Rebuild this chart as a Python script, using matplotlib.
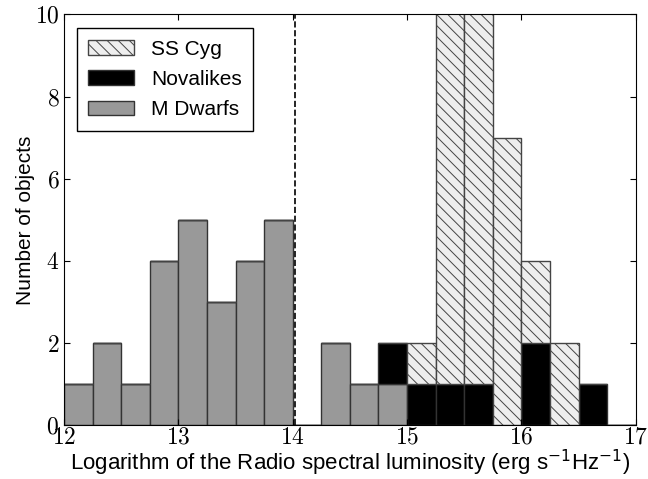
import numpy as np
import matplotlib.pyplot as plt
from matplotlib.ticker import FuncFormatter

plt.rcParams['font.family'] = ['Liberation Sans', 'DejaVu Sans']
plt.rcParams['mathtext.fontset'] = 'cm'
plt.rcParams['hatch.color'] = '#808080'
plt.rcParams['hatch.linewidth'] = 0.7

# bin edges, width 0.25 dex
edges = np.arange(12.0, 17.01, 0.25)

mdwarfs = [1, 2, 1, 4, 5, 3, 4, 5, 0, 2, 1, 1, 0, 0, 0, 0, 0, 0, 0, 0]
novalikes = [0, 0, 0, 0, 0, 0, 0, 0, 0, 0, 0, 1, 1, 1, 1, 0, 2, 0, 1, 0]
sscyg = [0, 0, 0, 0, 0, 0, 0, 0, 0, 0, 0, 0, 1, 10, 11, 7, 2, 2, 0, 0]

cut = 14.02

left = edges[:-1]
w = np.diff(edges)
md = np.array(mdwarfs)
nl = np.array(novalikes)
ss = np.array(sscyg)

fig = plt.figure(figsize=(6.48, 4.79), dpi=100)
ax = fig.add_axes([0.099, 0.112, 0.882, 0.858])

ax.bar(left, md, width=w, align='edge', color='#999999', edgecolor='#333333',
       linewidth=1, label='M Dwarfs')
ax.bar(left, nl, width=w, bottom=md, align='edge', color='black',
       edgecolor='#333333', linewidth=1, label='Novalikes')
ax.bar(left, ss, width=w, bottom=md + nl, align='edge', color='#eeeeee',
       edgecolor='#444444', linewidth=1, hatch='\\\\\\', label='SS Cyg')

ax.axvline(cut, color='black', linestyle='--', linewidth=1.2)

ax.set_xlim(12, 17)
ax.set_ylim(0, 10)
ax.set_xticks([12, 13, 14, 15, 16, 17])
ax.set_yticks([0, 2, 4, 6, 8, 10])
fmt = FuncFormatter(lambda v, p: r'$%d$' % v)
ax.xaxis.set_major_formatter(fmt)
ax.yaxis.set_major_formatter(fmt)
ax.tick_params(direction='in', top=True, right=True, labelsize=17, length=4)
ax.tick_params(axis='x', pad=1)

ax.set_xlabel(r'Logarithm of the Radio spectral luminosity (erg s$^{-1}$Hz$^{-1}$)',
              fontsize=16, labelpad=-1, math_fontfamily='dejavusans')
ax.set_ylabel('Number of objects', fontsize=15, labelpad=0)

h, l = ax.get_legend_handles_labels()
ax.legend(h[::-1], l[::-1], loc='upper left', fontsize=15, fancybox=False,
          edgecolor='black', framealpha=1, handlelength=2.2,
          borderpad=0.55, labelspacing=0.55, bbox_to_anchor=(0.004, 0.992))

fig.savefig('out.png', dpi=100)
